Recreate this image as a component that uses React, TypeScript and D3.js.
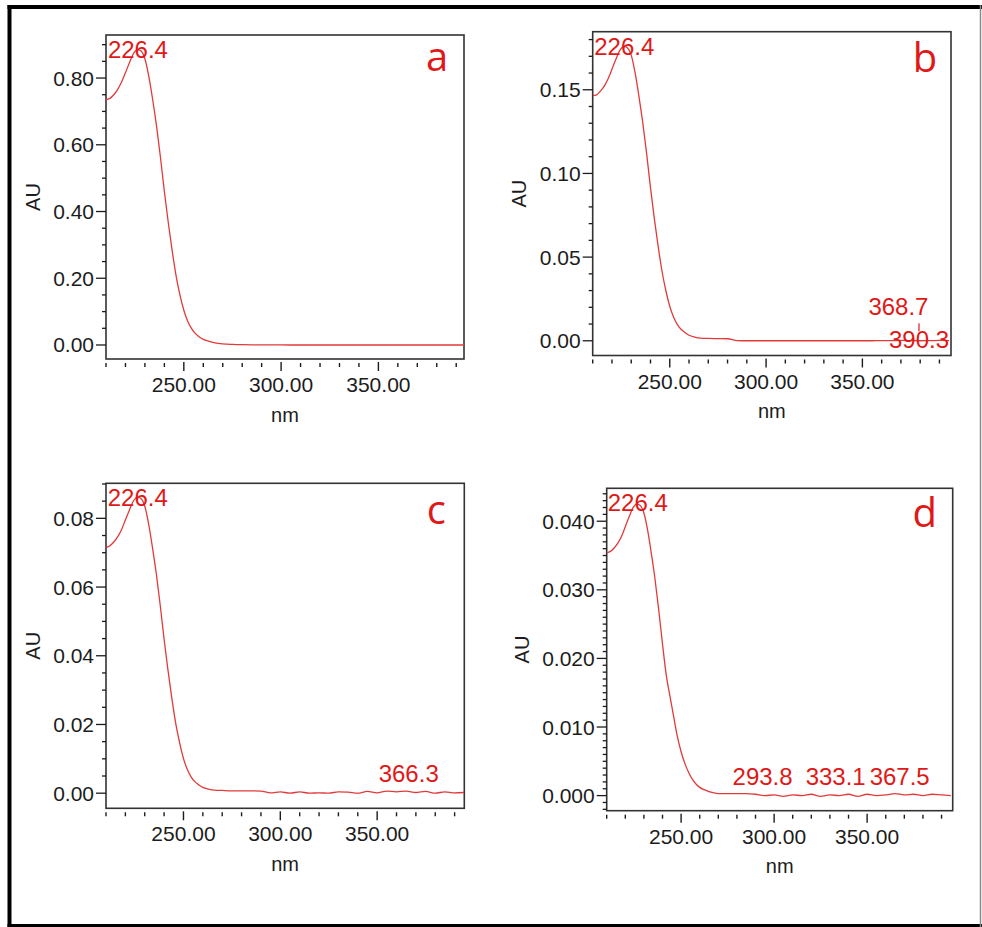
import React from 'react';
import * as d3 from 'd3';

// Wavelength grid (nm) shared by the four spectra
const WAVELENGTHS = [
  210, 212, 214, 216, 218, 220, 222, 224, 226.4, 228, 230, 232, 234, 236, 238, 240, 242, 244, 246, 248,
  250, 252, 254, 256, 258, 260, 263, 266, 270, 275, 280,
  285, 290, 295, 300, 305, 310, 315, 320, 325, 330, 335, 340, 345, 350, 355, 360, 365, 370, 375, 380, 385, 390, 395,
];

// Absorbance (AU)
const ABS_A = [
  0.735, 0.739, 0.75, 0.766, 0.788, 0.816, 0.845, 0.872, 0.885, 0.881, 0.858, 0.805, 0.735, 0.655, 0.562, 0.46, 0.367, 0.283, 0.208, 0.15,
  0.104, 0.071, 0.049, 0.034, 0.024, 0.017, 0.011, 0.0066, 0.0035, 0.0018, 0.0009,
  0.0005, 0.0003, 0.0002, 0.0001, 0, 0, 0, 0, 0, 0, 0, 0, 0, 0, 0, 0, 0, 0, 0, 0, 0, 0, 0,
];
const ABS_B = [
  0.1465, 0.147, 0.1492, 0.1522, 0.1566, 0.1623, 0.1681, 0.1734, 0.176, 0.1751, 0.1707, 0.1602, 0.1461, 0.1302, 0.1118, 0.0915, 0.073, 0.0563, 0.0414, 0.0299,
  0.0206, 0.0141, 0.0097, 0.0067, 0.0048, 0.0033, 0.0022, 0.0016, 0.0014, 0.0013, 0.0012,
  0.0001, 0, 0, 0, 0, 0, 0, 0, 0, 0, 0, 0, 0, 0, 0, 0.0001, 0.0001, 0.0002, 0.0001, 0, 0.0001, 0.0002, 0.0001,
];
const ABS_C = [
  0.0715, 0.072, 0.0731, 0.0746, 0.0767, 0.0795, 0.0823, 0.0849, 0.0862, 0.0858, 0.0836, 0.0784, 0.0715, 0.0638, 0.0547, 0.0448, 0.0358, 0.0276, 0.0203, 0.0147,
  0.0101, 0.0069, 0.0047, 0.0033, 0.0024, 0.0017, 0.0012, 0.0009, 0.0008, 0.0007, 0.0007,
  0.0007, 0.0006, 0.0001, 0.0004, 0.0, 0.0004, 0.0, 0.0001, 0.0, 0.0004, 0.0003, 0.0, 0.0005, 0.0001, 0.0006, 0.0004, 0.0006, 0.0002, 0.0005, 0.0, 0.0004, 0.0001, 0.0002,
];
const ABS_D = [
  0.0354, 0.0356, 0.0361, 0.0368, 0.0378, 0.0392, 0.0406, 0.0419, 0.0425, 0.0423, 0.0412, 0.0387, 0.0353, 0.0315, 0.027, 0.0221, 0.0176, 0.0145, 0.0115, 0.0086,
  0.0064, 0.0047, 0.0034, 0.0024, 0.0017, 0.0012, 0.0008, 0.0005, 0.0003, 0.0003, 0.0003,
  0.0003, 0.0002, 0.0, 0.0001, -0.0001, 0.0001, 0.0, 0.0002, -0.0001, 0.0001, 0.0, 0.0002, -0.0001, 0.0002, 0.0, 0.0001, 0.0003, 0.0001, 0.0002, 0.0, 0.0002, 0.0001, 0.0,
];

// Axis ticks
const X_MAJOR_TICKS = [250, 300, 350];
const X_MAJOR_LABELS = ['250.00', '300.00', '350.00'];
const X_MINOR_TICKS = [210, 220, 230, 240, 260, 270, 280, 290, 310, 320, 330, 340, 360, 370, 380, 390];

const Y_TICKS_A = [0, 0.2, 0.4, 0.6, 0.8];
const Y_LABELS_A = ['0.00', '0.20', '0.40', '0.60', '0.80'];
const Y_TICKS_B = [0, 0.05, 0.1, 0.15];
const Y_LABELS_B = ['0.00', '0.05', '0.10', '0.15'];
const Y_TICKS_C = [0, 0.02, 0.04, 0.06, 0.08];
const Y_LABELS_C = ['0.00', '0.02', '0.04', '0.06', '0.08'];
const Y_TICKS_D = [0, 0.01, 0.02, 0.03, 0.04];
const Y_LABELS_D = ['0.000', '0.010', '0.020', '0.030', '0.040'];

// Peak annotations
const PEAK_TEXT_A = ['226.4'];
const PEAK_WL_A = [226.4];
const PEAK_TEXT_B = ['226.4', '368.7', '390.3'];
const PEAK_WL_B = [226.4, 368.7, 390.3];
const PEAK_TEXT_C = ['226.4', '366.3'];
const PEAK_WL_C = [226.4, 366.3];
const PEAK_TEXT_D = ['226.4', '293.8', '333.1', '367.5'];
const PEAK_WL_D = [226.4, 293.8, 333.1, 367.5];

const RED = '#e01818';
const CURVE = '#e23a3a';
const INK = '#1c1c1c';
const FONT = '"Liberation Sans", Arial, sans-serif';

type Panel = {
  letter: string;
  values: number[];
  box: { l: number; t: number; r: number; b: number };
  xDomain: [number, number];
  yDomain: [number, number];
  yTicks: number[];
  yLabels: string[];
  yMinorStep: number;
  peakText: string[];
  peakWl: number[];
  // layout of peak labels: 'top' => near top of box, number => offset from zero line
  peakDy: (string | number)[];
  markerOn?: number;
  letterDx: number;
  letterDy: number;
  auOffset: number;
};

const PANELS: Panel[] = [
  {
    letter: 'a', values: ABS_A, box: { l: 106, t: 35, r: 464, b: 359 },
    xDomain: [210, 394], yDomain: [-0.042, 0.929],
    yTicks: Y_TICKS_A, yLabels: Y_LABELS_A, yMinorStep: 0.05,
    peakText: PEAK_TEXT_A, peakWl: PEAK_WL_A, peakDy: ['top'],
    letterDx: -27, letterDy: 36, auOffset: 66,
  },
  {
    letter: 'b', values: ABS_B, box: { l: 592.7, t: 31.7, r: 951, b: 355.5 },
    xDomain: [210, 396], yDomain: [-0.0088, 0.1847],
    yTicks: Y_TICKS_B, yLabels: Y_LABELS_B, yMinorStep: 0.01,
    peakText: PEAK_TEXT_B, peakWl: PEAK_WL_B, peakDy: ['top', -26, 7.6], markerOn: 2,
    letterDx: -26, letterDy: 40, auOffset: 67,
  },
  {
    letter: 'c', values: ABS_C, box: { l: 106, t: 483.3, r: 464.3, b: 808.3 },
    xDomain: [210, 395], yDomain: [-0.0044, 0.0902],
    yTicks: Y_TICKS_C, yLabels: Y_LABELS_C, yMinorStep: 0.005,
    peakText: PEAK_TEXT_C, peakWl: PEAK_WL_C, peakDy: ['top', -11],
    letterDx: -28, letterDy: 41, auOffset: 66,
  },
  {
    letter: 'd', values: ABS_D, box: { l: 606.7, t: 488.3, r: 952.7, b: 810.7 },
    xDomain: [210, 396], yDomain: [-0.0022, 0.0448],
    yTicks: Y_TICKS_D, yLabels: Y_LABELS_D, yMinorStep: 0.001,
    peakText: PEAK_TEXT_D, peakWl: PEAK_WL_D, peakDy: ['top', -10.5, -10.5, -10.5],
    letterDx: -28, letterDy: 39, auOffset: 78,
  },
];

const PEAK_FONT = 24;
const approxWidth = (s: string, size: number) =>
  s.split('').reduce((w, ch) => w + (ch === '.' ? 0.278 : 0.556), 0) * size;

function SpectrumPanel({ p, idx }: { p: Panel; idx: number }) {
  const { l, t, r, b } = p.box;
  const x = d3.scaleLinear().domain(p.xDomain).range([l, r]);
  const y = d3.scaleLinear().domain(p.yDomain).range([b, t]);
  const line = d3
    .line<number>()
    .x((_, i) => x(WAVELENGTHS[i]))
    .y((v) => y(v))
    .curve(d3.curveMonotoneX);
  const path = line(p.values) || '';

  const minor: number[] = [];
  const start = Math.ceil(p.yDomain[0] / p.yMinorStep);
  const end = Math.floor(p.yDomain[1] / p.yMinorStep);
  for (let k = start; k <= end; k++) {
    const v = +(k * p.yMinorStep).toFixed(6);
    if (!p.yTicks.some((m) => Math.abs(m - v) < 1e-9)) minor.push(v);
  }

  const clipId = `clip-${idx}`;
  const y0 = y(0);

  return (
    <g>
      <defs>
        <clipPath id={clipId}>
          <rect x={l} y={t} width={r - l} height={b - t} />
        </clipPath>
      </defs>
      <rect x={l} y={t} width={r - l} height={b - t} fill="#fff" stroke="#333" strokeWidth={1.6} />
      {/* y ticks */}
      {p.yTicks.map((v, i) => (
        <g key={`ym${i}`}>
          <line x1={l - 10} x2={l} y1={y(v)} y2={y(v)} stroke={INK} strokeWidth={1.3} />
          <text x={l - 12} y={y(v) + 7.5} textAnchor="end" fontSize={21} fontFamily={FONT} fill={INK}>
            {p.yLabels[i]}
          </text>
        </g>
      ))}
      {minor.map((v, i) => (
        <line key={`yn${i}`} x1={l - 4} x2={l} y1={y(v)} y2={y(v)} stroke={INK} strokeWidth={1.3} />
      ))}
      {/* x ticks */}
      {X_MAJOR_TICKS.map((v, i) => (
        <g key={`xm${i}`}>
          <line x1={x(v)} x2={x(v)} y1={b + 3} y2={b + 12} stroke={INK} strokeWidth={1.4} />
          <text x={x(v)} y={b + 33} textAnchor="middle" fontSize={21} fontFamily={FONT} fill={INK}>
            {X_MAJOR_LABELS[i]}
          </text>
        </g>
      ))}
      {X_MINOR_TICKS.map((v, i) => (
        <line key={`xn${i}`} x1={x(v)} x2={x(v)} y1={b + 4} y2={b + 8} stroke={INK} strokeWidth={1.4} />
      ))}
      {/* axis titles */}
      <text
        transform={`translate(${l - p.auOffset},${(t + b) / 2}) rotate(-90)`}
        textAnchor="middle"
        fontSize={20}
        fontFamily={FONT}
        fill={INK}
      >
        AU
      </text>
      <text x={(l + r) / 2} y={b + 62.5} textAnchor="middle" fontSize={20} fontFamily={FONT} fill={INK}>
        nm
      </text>
      {/* spectrum */}
      <path d={path} fill="none" stroke={CURVE} strokeWidth={1.3} clipPath={`url(#${clipId})`} />
      {/* peak labels */}
      {p.peakText.map((s, i) => {
        const w = approxWidth(s, PEAK_FONT);
        let cx = x(p.peakWl[i]);
        cx = Math.max(l + 1 + w / 2, Math.min(r - 2 - w / 2, cx));
        const dy = p.peakDy[i];
        const by = dy === 'top' ? t + 23 : y0 + (dy as number);
        return (
          <g key={`pk${i}`}>
            <text x={cx} y={by} textAnchor="middle" fontSize={PEAK_FONT} fontFamily={FONT} fill={RED}>
              {s}
            </text>
            {p.markerOn === i && (
              <line x1={cx} x2={cx} y1={by - 25} y2={by - 17} stroke={RED} strokeWidth={1.2} />
            )}
          </g>
        );
      })}
      {/* panel letter */}
      <text
        x={r + p.letterDx}
        y={t + p.letterDy}
        textAnchor="middle"
        fontSize={40}
        fontFamily={'"Open Sans", "Noto Sans", sans-serif'}
        fill={RED}
      >
        {p.letter}
      </text>
    </g>
  );
}

export default function App() {
  return (
    <svg
      width={982}
      height={927}
      style={{ position: 'absolute', left: 0, top: 0, background: '#fff' }}
      xmlns="http://www.w3.org/2000/svg"
    >
      <rect x={0} y={0} width={982} height={927} fill="#fff" />
      {/* outer frame */}
      <line x1={9.5} y1={5} x2={9.5} y2={927} stroke="#000" strokeWidth={4} />
      <line x1={7.5} y1={7} x2={982} y2={7} stroke="#000" strokeWidth={4} />
      <line x1={7.5} y1={925.5} x2={982} y2={925.5} stroke="#000" strokeWidth={3} />
      <line x1={980.5} y1={5} x2={980.5} y2={927} stroke="#8a8a8a" strokeWidth={1.5} />
      {PANELS.map((p, i) => (
        <SpectrumPanel key={p.letter} p={p} idx={i} />
      ))}
    </svg>
  );
}
